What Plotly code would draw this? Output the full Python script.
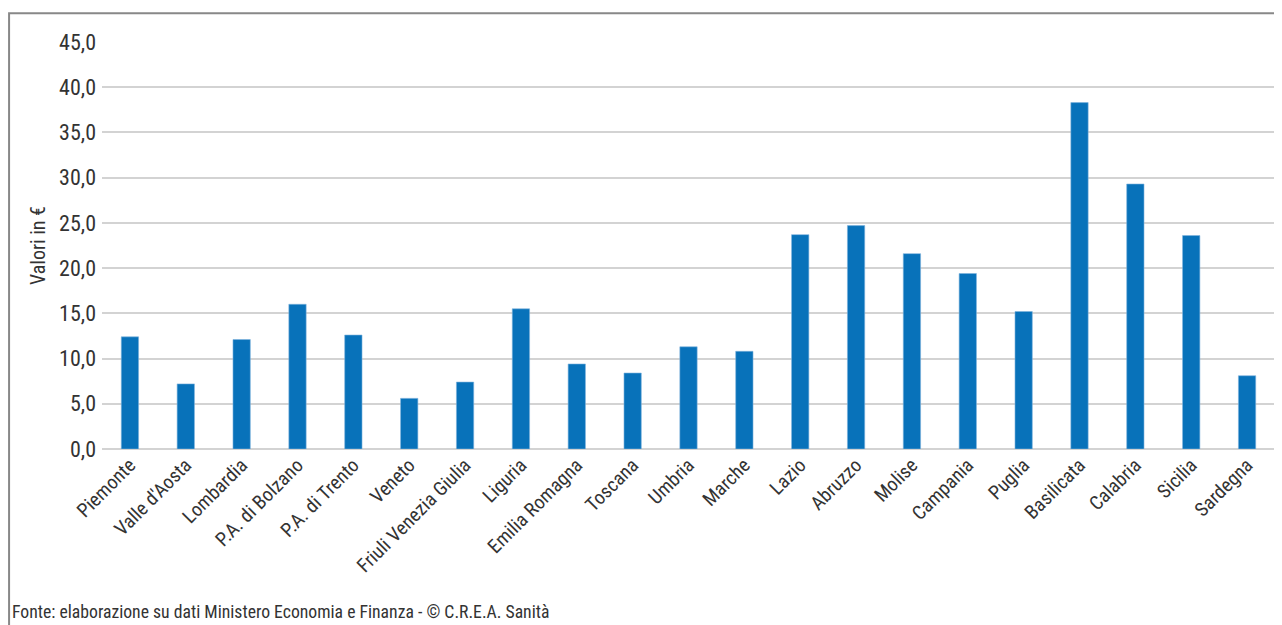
import plotly.graph_objects as go

regions = ["Piemonte", "Valle d'Aosta", "Lombardia", "P.A. di Bolzano", "P.A. di Trento",
           "Veneto", "Friuli Venezia Giulia", "Liguria", "Emilia Romagna", "Toscana",
           "Umbria", "Marche", "Lazio", "Abruzzo", "Molise", "Campania", "Puglia",
           "Basilicata", "Calabria", "Sicilia", "Sardegna"]
values = [12.4, 7.2, 12.1, 16.0, 12.6, 5.6, 7.4, 15.5, 9.4, 8.4,
          11.3, 10.8, 23.7, 24.7, 21.6, 19.4, 15.2, 38.3, 29.3, 23.6, 8.1]
y_ticks = [0, 5, 10, 15, 20, 25, 30, 35, 40, 45]

FONT = "Liberation Sans Narrow, Roboto Condensed, Arial Narrow, Roboto, sans-serif"
OFF = 8  # page body margin
W, H = 1282 - OFF, 625 - OFF
L, R, T, B = 101.5 - OFF, 6.5, 41.7 - OFF, 176.3
pw, ph = W - L - R, H - T - B

def px(x):
    return (x - OFF - L) / pw

def py(y):
    return (H - B - (y - OFF)) / ph

fig = go.Figure(go.Bar(
    x=regions, y=values,
    marker=dict(color="#0872ba", line=dict(color="#7fb3dd", width=0.6)),
    width=0.31,
))

fig.update_layout(
    width=W, height=H,
    margin=dict(l=L, r=R, t=T, b=B),
    paper_bgcolor="white", plot_bgcolor="white",
    separators=",.",
    showlegend=False,
    font=dict(family=FONT, size=19, color="#333333"),
    xaxis=dict(tickangle=-45, showgrid=False, showline=False, ticks="",
               tickfont=dict(family=FONT, size=19.5, color="#333333")),
    yaxis=dict(range=[0, 45], tickvals=y_ticks, tickformat=".1f",
               showgrid=True, gridcolor="#d3d3d3", gridwidth=2,
               zeroline=True, zerolinecolor="#d3d3d3", zerolinewidth=2,
               ticks="", showline=False, ticklabelstandoff=5,
               tickfont=dict(family=FONT, size=22, color="#333333")),
    shapes=[dict(type="rect", xref="paper", yref="paper",
                 x0=px(8.5), x1=px(1300), y0=py(660), y1=py(13),
                 line=dict(color="#888888", width=2), fillcolor="rgba(0,0,0,0)",
                 layer="above")],
    annotations=[
        dict(text="Valori in €", xref="paper", yref="paper", x=px(37), y=0.5,
             textangle=-90, showarrow=False, xanchor="center", yanchor="middle",
             font=dict(family=FONT, size=20, color="#333333")),
        dict(text="Fonte: elaborazione su dati Ministero Economia e Finanza - © C.R.E.A. Sanità",
             xref="paper", yref="paper", x=px(9), y=py(611.5),
             xanchor="left", yanchor="middle", showarrow=False,
             font=dict(family=FONT, size=17.7, color="#333333")),
    ],
)

fig.write_html("out.html")
